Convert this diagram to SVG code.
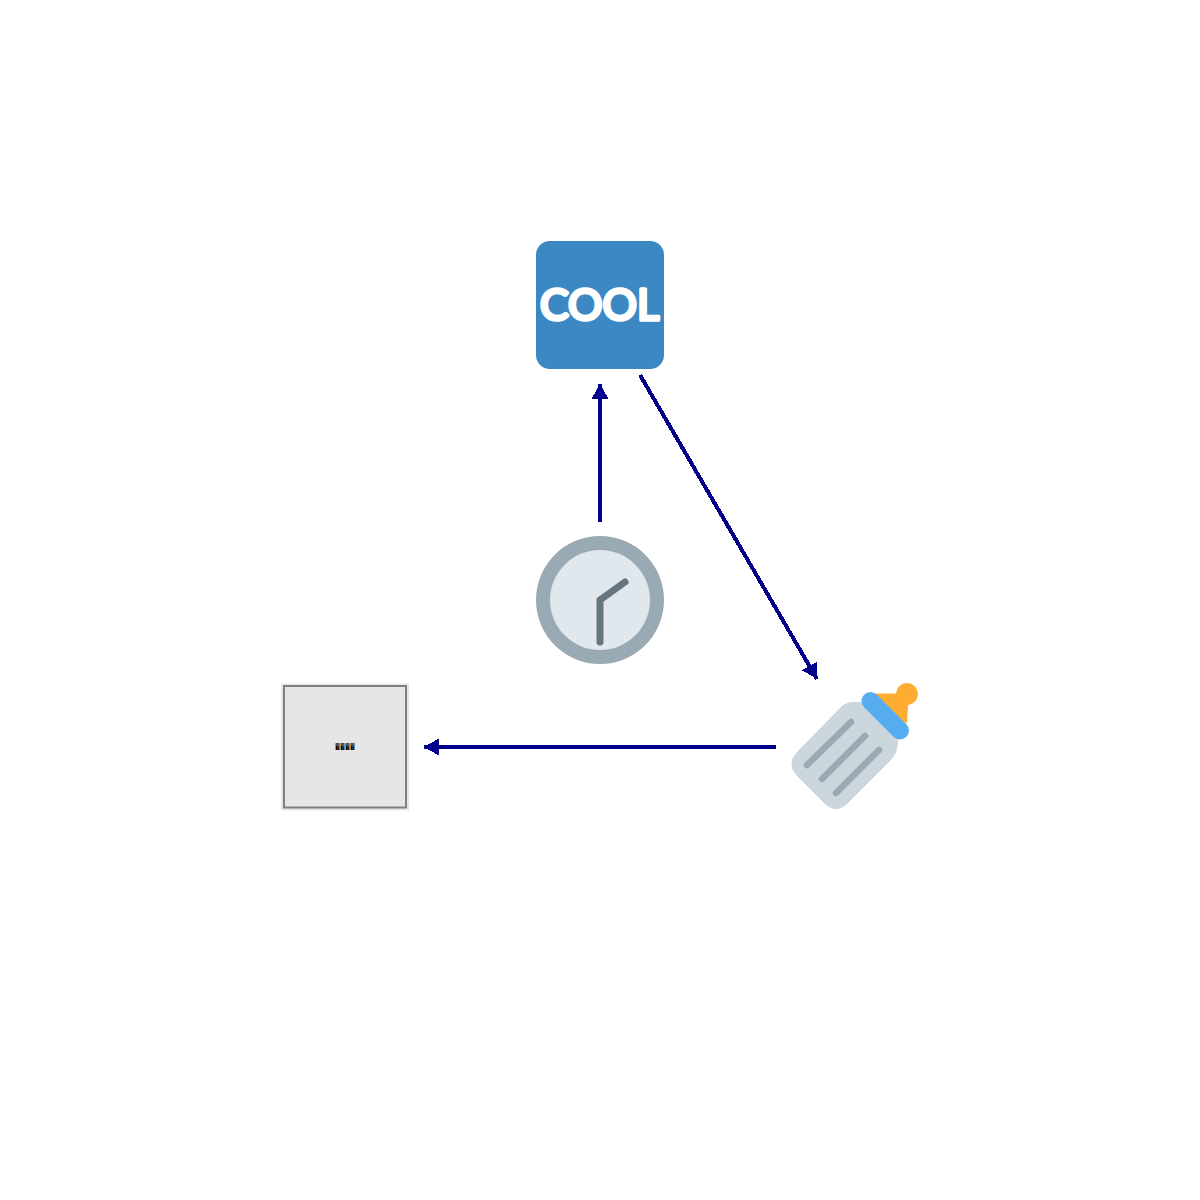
<svg xmlns="http://www.w3.org/2000/svg" width="1200" height="1200" viewBox="0 0 1200 1200">
<style>
.conn{stroke:#00008b;stroke-width:4;fill:none;shape-rendering:crispEdges}
.bar{stroke:#99aab5;stroke-width:6.5;stroke-linecap:round;fill:none}
.hand{stroke:#66757f;stroke-width:7;stroke-linecap:round;fill:none}
</style>
<defs>
<marker id="arrow" markerUnits="userSpaceOnUse" markerWidth="16" markerHeight="18" refX="15" refY="8.5" orient="auto" viewBox="0 0 16 18">
<path d="M0 0L15 8.500L0 17Z" fill="#00008b" shape-rendering="crispEdges"/>
</marker>
</defs>
<rect width="1200" height="1200" fill="#fff"/>
<g id="connectors">
<line class="conn" x1="600" y1="522" x2="600" y2="384" marker-end="url(#arrow)"/>
<line class="conn" x1="640" y1="375" x2="817" y2="679" marker-end="url(#arrow)"/>
<line class="conn" x1="776" y1="747" x2="424" y2="747" marker-end="url(#arrow)"/>
</g>
<g id="node-cool">
<rect x="536" y="241" width="128" height="128" rx="14" fill="#3b88c3"/>
<text x="540" y="320" font-family="Lato,'Liberation Sans',sans-serif" font-size="43" fill="#fff" stroke="#fff" stroke-width="3.500" stroke-linejoin="round">COOL</text>
</g>
<g id="node-clock">
<circle cx="600" cy="600" r="64" fill="#99aab5"/>
<circle cx="600" cy="600" r="50" fill="#e1e8ed"/>
<path class="hand" d="M625 582L600 600V642"/>
</g>
<g id="node-bottle">
<path d="M880 702H853Q845 702 839 709L797 752Q786 764 797 776L824 803Q836 815 848 803L890 761Q898 753 898 742V722Z" fill="#ccd6dd"/>
<path d="M875 693.500H896A11 11 0 1 1 908 705L907 723L895 720Z" fill="#ffac33"/>
<line x1="870.500" y1="701" x2="900" y2="730.500" stroke="#55acee" stroke-width="18" stroke-linecap="round"/>
<line class="bar" x1="851" y1="722" x2="807" y2="765"/>
<line class="bar" x1="865" y1="736" x2="822" y2="779"/>
<line class="bar" x1="879" y1="750" x2="836" y2="793"/>
</g>
<g id="node-box">
<rect x="281" y="683.500" width="128" height="127" fill="#e6e6e6"/>
<rect x="284" y="686" width="122" height="121.500" fill="#e6e6e6" stroke="#808080" stroke-width="2"/>
<text x="335" y="750" font-family="serif" font-size="10" fill="#000" opacity="0.99">&#xFFFD;&#xFFFD;&#xFFFD;&#xFFFD;<tspan fill="none">&#x0378;</tspan></text>
</g>
</svg>
